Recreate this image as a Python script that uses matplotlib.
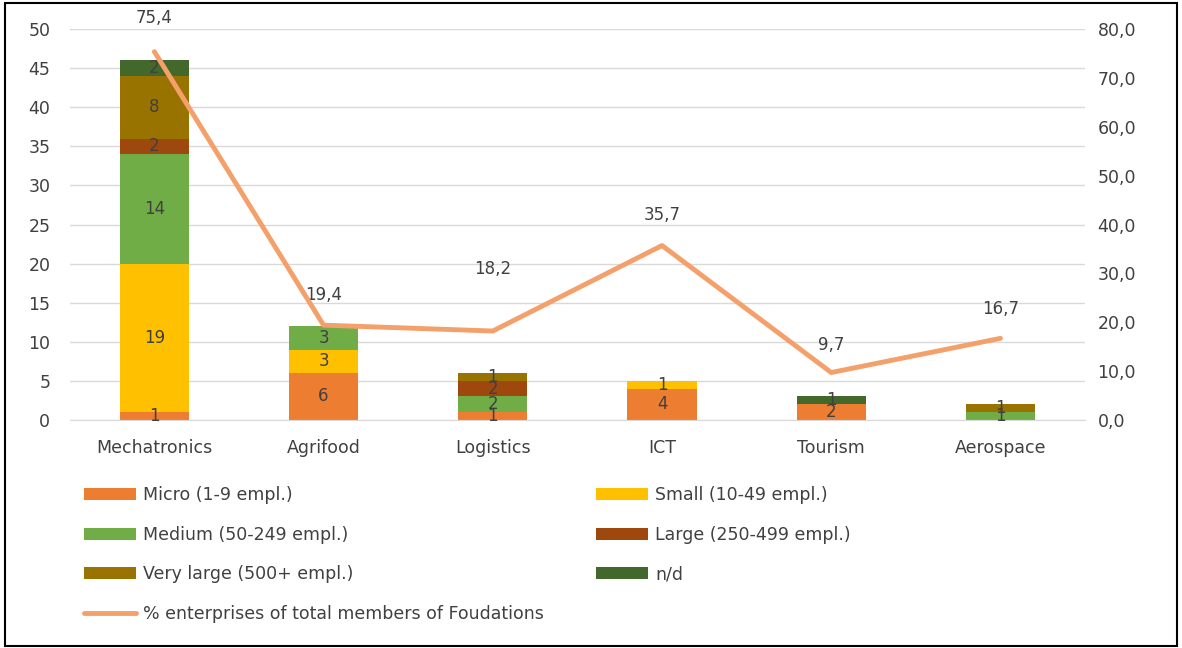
import matplotlib.pyplot as plt
from matplotlib.patches import Rectangle
import numpy as np

categories = ["Mechatronics", "Agrifood", "Logistics", "ICT", "Tourism", "Aerospace"]

# number of enterprises by size
micro = [1, 6, 1, 4, 2, 0]
small = [19, 3, 0, 1, 0, 0]
medium = [14, 3, 2, 0, 0, 1]
large = [2, 0, 2, 0, 0, 0]
very_large = [8, 0, 1, 0, 0, 1]
nd = [2, 0, 0, 0, 1, 0]

# % enterprises of total members (right axis)
pct = [75.4, 19.4, 18.2, 35.7, 9.7, 16.7]

series = [
    ("Micro (1-9 empl.)", micro, "#ED7D31"),
    ("Small (10-49 empl.)", small, "#FFC000"),
    ("Medium (50-249 empl.)", medium, "#70AD47"),
    ("Large (250-499 empl.)", large, "#9E480E"),
    ("Very large (500+ empl.)", very_large, "#997300"),
    ("n/d", nd, "#43682B"),
]

plt.rcParams['font.family'] = ['DejaVu Sans']
text_col = '#404040'

fig = plt.figure(figsize=(11.82, 6.48), dpi=100)
ax = fig.add_axes([0.059, 0.352, 0.859, 0.603])
ax2 = ax.twinx()

x = np.arange(len(categories))
bottom = np.zeros(len(categories))
bars = {}
for name, vals, col in series:
    vals = np.array(vals, dtype=float)
    b = ax.bar(x, vals, 0.41, bottom=bottom, color=col, label=name, zorder=2)
    bars[name] = b
    for xi, v, bt in zip(x, vals, bottom):
        if v > 0:
            ax.text(xi, bt + v / 2, f"{int(v)}", ha='center', va='center',
                    fontsize=12, color=text_col, zorder=3)
    bottom += vals

line, = ax2.plot(x, pct, color='#F4A06B', lw=3.5, solid_capstyle='round',
                 label="% enterprises of total members of Foudations", zorder=4)
label_lift = [24, 22, 45, 22, 20, 21]  # points above the line
for xi, p, d in zip(x, pct, label_lift):
    ax2.annotate(f"{p:.1f}".replace('.', ','), (xi, p), xytext=(0, d),
                 textcoords='offset points', ha='center', va='center',
                 fontsize=12, color=text_col)

ax.set_xlim(-0.5, 5.5)
ax.set_ylim(0, 50)
ax.set_yticks(range(0, 51, 5))
ax2.set_ylim(0, 80)
ax2.set_yticks(range(0, 81, 10))
ax2.set_yticklabels([f"{v},0" for v in range(0, 81, 10)])
ax.set_xticks(x)
ax.set_xticklabels(categories)
ax.yaxis.grid(True, color='#D9D9D9', lw=1, zorder=0)
ax.set_axisbelow(True)
for a in (ax, ax2):
    for s in a.spines.values():
        s.set_visible(False)
    a.tick_params(length=0, labelsize=12.5, colors=text_col)
ax.tick_params(axis='y', pad=14)
ax.tick_params(axis='x', pad=14)
ax2.tick_params(axis='y', pad=9)
ax.spines['bottom'].set_visible(True)
ax.spines['bottom'].set_color('#D9D9D9')

order = ["Micro (1-9 empl.)", "Medium (50-249 empl.)", "Very large (500+ empl.)"]
order2 = ["Small (10-49 empl.)", "Large (250-499 empl.)", "n/d"]
handles = [bars[n] for n in order] + [line] + [bars[n] for n in order2]
labels = order + [line.get_label()] + order2
fig.legend(handles, labels, ncol=2, loc='upper left', bbox_to_anchor=(0.058, 0.274),
           frameon=False, fontsize=12.5, labelcolor=text_col, handlelength=3.0,
           handleheight=0.7, handletextpad=0.4, columnspacing=3.0, labelspacing=1.25)

fig.add_artist(Rectangle((0.004, 0.003), 0.992, 0.992, transform=fig.transFigure,
                         fill=False, edgecolor='black', lw=1.5))

fig.savefig('out.png', dpi=100)
